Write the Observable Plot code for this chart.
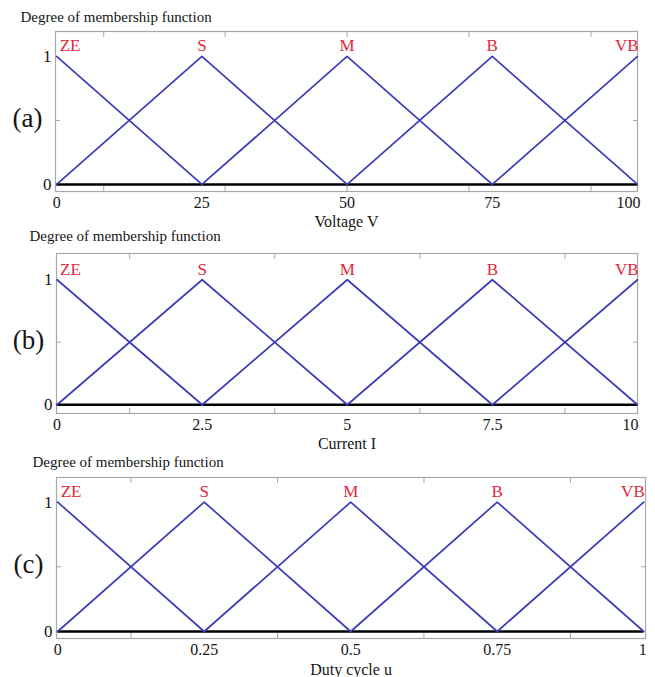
<!DOCTYPE html>
<html>
<head>
<meta charset="utf-8">
<script src="https://cdn.jsdelivr.net/npm/d3@7"></script>
<script src="https://cdn.jsdelivr.net/npm/@observablehq/plot@0.6"></script>
<style>
  html, body { margin: 0; padding: 0; background: #fff; }
  #chart svg { display: block; }
</style>
</head>
<body>
<div id="chart"></div>
<script>
// ---- data ----
const setLabels = ["ZE", "S", "M", "B", "VB"];
const voltageCenters = [0, 25, 50, 75, 100];
const currentCenters = [0, 2.5, 5, 7.5, 10];
const dutyCenters = [0, 0.25, 0.5, 0.75, 1];
const voltageTickLabels = ["0", "25", "50", "75", "100"];
const currentTickLabels = ["0", "2.5", "5", "7.5", "10"];
const dutyTickLabels = ["0", "0.25", "0.5", "0.75", "1"];
const voltageFrameTicks = [8.1, 29, 50, 71, 92];
const currentFrameTicks = [1.25, 3.75, 6.25, 8.75];
const dutyFrameTicks = [0.125, 0.375, 0.625, 0.875];
const membershipTicks = [0, 1];
const membershipTickLabels = ["0", "1"];
const panelLetters = ["(a)", "(b)", "(c)"];
const axisTitles = ["Voltage V", "Current I", "Duty cycle u"];
const yTitle = "Degree of membership function";

function membership(centers) {
  const rows = [];
  centers.forEach((c, i) => {
    if (i > 0) rows.push({set: setLabels[i], x: centers[i - 1], y: 0});
    rows.push({set: setLabels[i], x: c, y: 1});
    if (i < centers.length - 1) rows.push({set: setLabels[i], x: centers[i + 1], y: 0});
  });
  return rows;
}

const panels = [
  {centers: voltageCenters, ticks: voltageTickLabels, frameTicks: voltageFrameTicks,
   height: 226, mt: 31, mb: 35, ml: 55, mr: 18, xd: [-0.2, 100], yd: [-0.055, 1.195],
   titleDx: -35, titleDy: -14, labelDy: 30, lastDx: 3},
  {centers: currentCenters, ticks: currentTickLabels, frameTicks: currentFrameTicks,
   height: 225, mt: 27, mb: 38, ml: 56, mr: 18, xd: [-0.01, 10], yd: [-0.07, 1.21],
   titleDx: -27, titleDy: -17, labelDy: 30, lastDx: 1},
  {centers: dutyCenters, ticks: dutyTickLabels, frameTicks: dutyFrameTicks,
   height: 226, mt: 26, mb: 39, ml: 56, mr: 10, xd: [-0.002, 1.003], yd: [-0.054, 1.19],
   titleDx: -24, titleDy: -15, labelDy: 31, lastDx: 3}
];

const FONT = "'Liberation Serif', 'Times New Roman', serif";
const blue = "#3c3db4";
const red = "#e0283a";
const gray = "#a8a8a8";
const ink = "#151515";

panels.forEach((p, k) => {
  const data = membership(p.centers);
  const n = p.centers.length;
  const xmax = p.centers[n - 1];
  const last = setLabels.length - 1;
  const peaks = p.centers.map((c, i) => ({x: c, label: setLabels[i], i}));
  const chart = Plot.plot({
    width: 655,
    height: p.height,
    marginTop: p.mt,
    marginBottom: p.mb,
    marginLeft: p.ml,
    marginRight: p.mr,
    style: `font-family: ${FONT}; font-size: 16px; background: #fff; overflow: visible;`,
    x: {domain: p.xd},
    y: {domain: p.yd},
    marks: [
      Plot.frame({stroke: gray, strokeWidth: 1.2}),
      // inner frame ticks
      Plot.axisX({anchor: "top", ticks: p.frameTicks, tickSize: -5, tickFormat: () => "", stroke: gray, label: null}),
      Plot.axisX({anchor: "bottom", ticks: p.frameTicks, tickSize: -5, tickFormat: () => "", stroke: gray, label: null}),
      Plot.axisY({anchor: "left", ticks: [0.5], tickSize: -5, tickFormat: () => "", stroke: gray, label: null}),
      Plot.axisY({anchor: "right", ticks: [0.5], tickSize: -5, tickFormat: () => "", stroke: gray, label: null}),
      // labelled x axis (last tick right-aligned like the reference)
      Plot.axisX({anchor: "bottom", ticks: p.centers.slice(0, n - 1), tickFormat: (d, i) => p.ticks[i], tickSize: 0, tickPadding: 5,
        fontSize: 16, fontFamily: FONT, fill: ink, label: null}),
      Plot.axisX({anchor: "bottom", ticks: [xmax], tickFormat: () => p.ticks[n - 1], tickSize: 0, tickPadding: 5,
        textAnchor: "end", dx: p.lastDx, fontSize: 16, fontFamily: FONT, fill: ink, label: null}),
      Plot.axisY({anchor: "left", ticks: membershipTicks, tickFormat: (d, i) => membershipTickLabels[i], tickSize: 0, tickPadding: 4,
        fontSize: 17, fontFamily: FONT, fill: ink, label: null}),
      // zero line
      Plot.ruleY([0], {x1: p.centers[0], x2: xmax, stroke: "#000", strokeWidth: 2.5}),
      // membership triangles
      Plot.line(data, {x: "x", y: "y", z: "set", stroke: blue, strokeWidth: 1.7}),
      // set labels
      Plot.text(peaks, {x: "x", y: () => 1, text: "label", fill: red, fontSize: 17, fontFamily: FONT,
        lineAnchor: "bottom", dy: -5, filter: d => d.i > 0 && d.i < last, textAnchor: "middle"}),
      Plot.text(peaks, {x: "x", y: () => 1, text: "label", fill: red, fontSize: 17, fontFamily: FONT,
        lineAnchor: "bottom", dy: -5, dx: 3, filter: d => d.i === 0, textAnchor: "start"}),
      Plot.text(peaks, {x: "x", y: () => 1, text: "label", fill: red, fontSize: 17, fontFamily: FONT,
        lineAnchor: "bottom", dy: -5, dx: 1, filter: d => d.i === last, textAnchor: "end"}),
      // panel letter
      Plot.text([panelLetters[k]], {frameAnchor: "left", y: () => 0.5, text: d => d, dx: -28, dy: -2, textAnchor: "middle",
        fontSize: 27, fontFamily: FONT, fill: ink}),
      // y title
      Plot.text([yTitle], {frameAnchor: "top-left", text: d => d, dx: p.titleDx, dy: p.titleDy, textAnchor: "start",
        lineAnchor: "middle", fontSize: 15, fontFamily: FONT, fill: ink}),
      // x title
      Plot.text([axisTitles[k]], {frameAnchor: "bottom", text: d => d, dy: p.labelDy, lineAnchor: "middle",
        fontSize: 16, fontFamily: FONT, fill: ink})
    ]
  });
  document.getElementById("chart").appendChild(chart);
});
</script>
</body>
</html>
